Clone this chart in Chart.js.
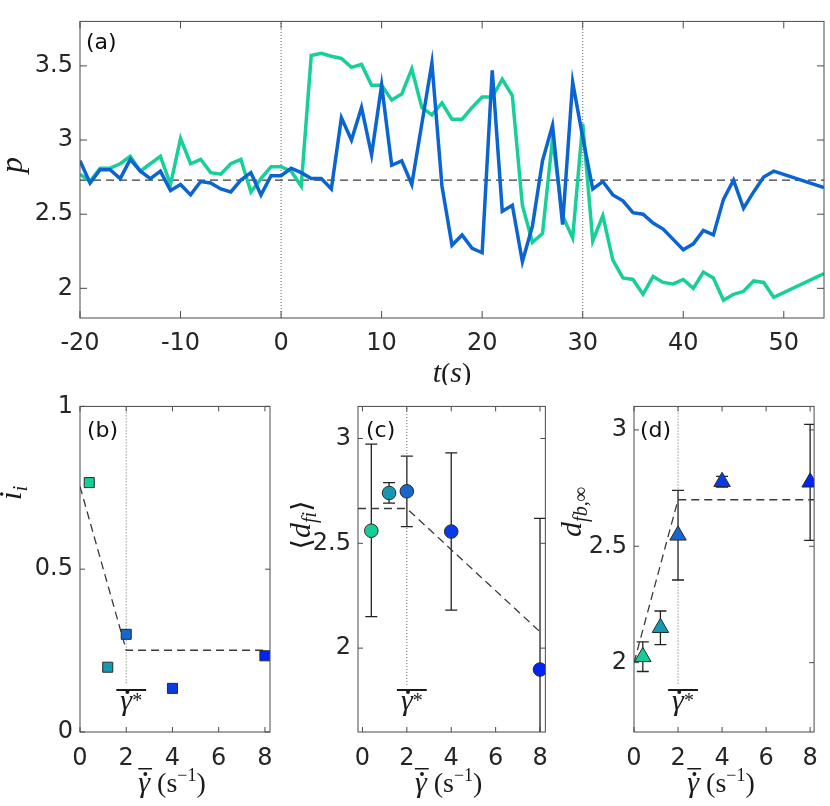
<!DOCTYPE html>
<html>
<head>
<meta charset="utf-8">
<script src="https://cdn.jsdelivr.net/npm/chart.js@4.4.1/dist/chart.umd.min.js"></script>
<style>
  body { margin: 0; background: #fff; width: 830px; height: 806px; position: relative; overflow: hidden; }
  .box { position: absolute; }
</style>
</head>
<body>
<div class="box" style="left:0;top:0;width:830px;height:385px"><canvas id="chartA"></canvas></div>
<div class="box" style="left:0;top:385px;width:290px;height:421px"><canvas id="chartB"></canvas></div>
<div class="box" style="left:290px;top:385px;width:270px;height:421px"><canvas id="chartC"></canvas></div>
<div class="box" style="left:560px;top:385px;width:270px;height:421px"><canvas id="chartD"></canvas></div>
<script>
// (a) time series of p
const timeS = [-20, -19, -18, -17, -16, -15, -14, -13, -12, -11,
  -10, -9, -8, -7, -6, -5, -4, -3, -2, -1,
  0, 1, 2, 3, 4, 5, 6, 7, 8, 9,
  10, 11, 12, 13, 14, 15, 16, 17, 18, 19,
  20, 21, 22, 23, 24, 25, 26, 27, 28, 29,
  30, 31, 32, 33, 34, 35, 36, 37, 38, 39,
  40, 41, 42, 43, 44, 45, 46, 47, 48, 49, 54];
const pBlue = [2.86, 2.71, 2.80, 2.80, 2.74, 2.87, 2.79, 2.74, 2.79, 2.66,
  2.70, 2.63, 2.72, 2.71, 2.67, 2.65, 2.73, 2.78, 2.63, 2.76,
  2.76, 2.81, 2.78, 2.74, 2.74, 2.67, 3.15, 3.00, 3.22, 2.90,
  3.37, 2.83, 2.86, 2.70, 3.11, 3.52, 2.69, 2.29, 2.36, 2.27,
  2.24, 3.47, 2.52, 2.56, 2.18, 2.42, 2.86, 3.10, 2.43, 3.39,
  3.02, 2.67, 2.72, 2.63, 2.59, 2.51, 2.50, 2.44, 2.40, 2.33,
  2.26, 2.30, 2.39, 2.36, 2.60, 2.73, 2.54, 2.65, 2.75, 2.79, 2.68];
const pGreen = [2.77, 2.72, 2.81, 2.81, 2.84, 2.89, 2.79, 2.84, 2.89, 2.70,
  3.01, 2.84, 2.87, 2.78, 2.77, 2.84, 2.87, 2.65, 2.74, 2.82,
  2.82, 2.79, 2.69, 3.57, 3.585, 3.565, 3.55, 3.49, 3.51, 3.37,
  3.37, 3.27, 3.31, 3.48, 3.22, 3.17, 3.25, 3.14, 3.14, 3.22,
  3.29, 3.29, 3.41, 3.30, 2.56, 2.31, 2.37, 3.01, 2.49, 2.34,
  3.11, 2.32, 2.49, 2.19, 2.07, 2.06, 1.96, 2.08, 2.04, 2.03,
  2.06, 2.00, 2.11, 2.07, 1.92, 1.96, 1.98, 2.05, 2.04, 1.94, 2.10];
const pMean = 2.73;
const markTimes = [0, 30];
const timeTicks = [-20, -10, 0, 10, 20, 30, 40, 50];
const pTicks = [2, 2.5, 3, 3.5];

// (b)-(d) against mean shear rate
const shearRates = [0.4, 1.2, 2, 4, 8];
const rateColors = ['#17cc97', '#1499b0', '#1666cc', '#0a3ae6', '#0022ff'];
const rateTicks = [0, 2, 4, 6, 8];
const iiTicks = [0, 0.5, 1];
const dTicks = [2, 2.5, 3];
const iiVals = [0.766, 0.199, 0.30, 0.134, 0.234];
const dfiVals = [2.56, 2.74, 2.748, 2.556, 1.898];
const dfiLow = [2.15, 2.692, 2.58, 2.181, 1.177];
const dfiHigh = [2.973, 2.789, 2.916, 2.931, 2.619];
const dfbVals = [2.025, 2.15, 2.547, 2.777, 2.775];
const dfbLow = [1.962, 2.077, 2.355, 2.754, 2.525];
const dfbHigh = [2.089, 2.222, 2.74, 2.80, 3.024];
const fitBX = [0, 2, 8], fitBY = [0.754, 0.251, 0.251];
const fitCX = [-0.2, 2, 8], fitCY = [2.666, 2.666, 2.078];
const fitDX = [0, 2, 8.2], fitDY = [2.0, 2.7, 2.7];
const critRate = 2;
const critLineB = [1, 0.146], critLineC = [3.16, 1.825], critLineD = [3.1, 1.904];

const pts = (xs, ys) => xs.map((x, i) => ({ x: x, y: ys[i] }));

function partFont(p) {
  return (p.italic ? 'italic ' : '') + p.size + 'px "Liberation Serif", "DejaVu Serif", serif';
}

// draws a run of text pieces centred on cx with baseline cy
function drawRich(ctx, parts, cx, cy, barY) {
  let w = 0;
  parts.forEach(p => { ctx.font = partFont(p); p.w = ctx.measureText(p.t).width; w += p.w; });
  let x = cx - w / 2;
  const x0 = x;
  parts.forEach(p => {
    ctx.font = partFont(p);
    ctx.fillText(p.t, x, cy + (p.dy || 0));
    if (p.dot) {
      ctx.beginPath();
      ctx.arc(x + p.w * 0.6, cy - p.size * 0.6, p.size * 0.065, 0, 2 * Math.PI);
      ctx.fill();
    }
    if (p.bar) ctx.fillRect(x, cy - p.size * 0.8, p.w + 2, 1.5);
    x += p.w;
  });
  if (barY) ctx.fillRect(x0 - 4, cy - barY, w + 8, 2);
}

const panelDeco = {
  id: 'panelDeco',
  beforeDatasetsDraw(chart, args, o) {
    if (!o.errLow) return;
    const { ctx, chartArea: a, scales: { x, y } } = chart;
    ctx.save();
    ctx.beginPath();
    ctx.rect(a.left, a.top, a.width, a.height);
    ctx.clip();
    ctx.strokeStyle = '#222';
    ctx.lineWidth = 1.3;
    shearRates.forEach((r, i) => {
      const px = x.getPixelForValue(r);
      const lo = y.getPixelForValue(o.errLow[i]);
      const hi = y.getPixelForValue(o.errHigh[i]);
      ctx.beginPath();
      ctx.moveTo(px, lo); ctx.lineTo(px, hi);
      ctx.moveTo(px - 6, lo); ctx.lineTo(px + 6, lo);
      ctx.moveTo(px - 6, hi); ctx.lineTo(px + 6, hi);
      ctx.stroke();
    });
    ctx.restore();
  },
  afterDatasetsDraw(chart, args, o) {
    const { ctx, chartArea: a, scales: { x, y } } = chart;
    ctx.save();
    ctx.strokeStyle = '#4a4a4a';
    ctx.lineWidth = 1;
    ctx.strokeRect(a.left, a.top, a.right - a.left, a.bottom - a.top);
    const tl = o.tickLen;
    ctx.beginPath();
    x.ticks.forEach(t => {
      const px = x.getPixelForValue(t.value);
      ctx.moveTo(px, a.bottom); ctx.lineTo(px, a.bottom - tl);
      ctx.moveTo(px, a.top); ctx.lineTo(px, a.top + tl);
    });
    y.ticks.forEach(t => {
      const py = y.getPixelForValue(t.value);
      ctx.moveTo(a.left, py); ctx.lineTo(a.left + tl, py);
      ctx.moveTo(a.right, py); ctx.lineTo(a.right - tl, py);
    });
    ctx.stroke();

    ctx.fillStyle = '#111';
    ctx.font = '22px "DejaVu Sans"';
    ctx.fillText(o.letter, a.left + o.letterDx, a.top + o.letterDy);

    ctx.fillStyle = '#1a1a1a';
    if (o.star) {
      const px = x.getPixelForValue(critRate);
      drawRich(ctx, [{ t: 'γ', italic: true, size: 30, dot: true }, { t: '*', size: 20, dy: -3 }], px + 5, 325, 21);
    }
    if (o.xTitle) drawRich(ctx, o.xTitle, (a.left + a.right) / 2 + o.xTitleDx, o.xTitleY);
    if (o.yTitle) {
      ctx.translate(o.yTitleX, o.yTitleY);
      ctx.rotate(-Math.PI / 2);
      drawRich(ctx, o.yTitle, 0, 8);
    }
    ctx.restore();
  }
};
Chart.register(panelDeco);

const tickFont = { family: '"DejaVu Sans"', size: 24 };
const fmt = v => String(+v.toFixed(2));

function axes(xr, xTicks, yr, yTicks, yWidth, xHeight, xPad) {
  return {
    x: {
      type: 'linear', min: xr[0], max: xr[1],
      grid: { display: false, drawTicks: false }, border: { display: false },
      ticks: { color: '#262626', font: tickFont, padding: xPad, maxRotation: 0, autoSkip: false, callback: fmt },
      afterBuildTicks: s => { s.ticks = xTicks.map(v => ({ value: v })); },
      afterFit: s => { s.height = xHeight; }
    },
    y: {
      type: 'linear', min: yr[0], max: yr[1],
      grid: { display: false, drawTicks: false }, border: { display: false },
      ticks: { color: '#262626', font: tickFont, padding: 7, autoSkip: false, callback: fmt },
      afterBuildTicks: s => { s.ticks = yTicks.map(v => ({ value: v })); },
      afterFit: s => { s.width = yWidth; }
    }
  };
}

function refLine(data, dash) {
  return {
    type: 'line', data: data, borderColor: dash ? '#3a3a3a' : '#666',
    borderWidth: dash ? 1.3 : 1, borderDash: dash ? [8, 5] : [1, 2],
    pointRadius: 0, fill: false, tension: 0
  };
}

function markers(vals, style, radius) {
  return {
    type: 'scatter', data: pts(shearRates, vals), showLine: false,
    pointStyle: style, pointRadius: radius, pointBackgroundColor: rateColors,
    pointBorderColor: '#2a2a2a', pointBorderWidth: 1
  };
}

const gammaTitle = [
  { t: 'γ', italic: true, size: 30, dot: true, bar: true },
  { t: ' (s', size: 28 },
  { t: '−1', size: 18, dy: -11 },
  { t: ')', size: 28 }
];

const common = {
  responsive: true, maintainAspectRatio: false, animation: false, events: [],
  plugins: { legend: { display: false }, tooltip: { enabled: false } }
};

// (a)
new Chart(document.getElementById('chartA'), {
  type: 'line',
  data: {
    datasets: [
      { data: pts(timeS, pBlue), borderColor: '#0a64d2', borderWidth: 3.5, pointRadius: 0, tension: 0 },
      { data: pts(timeS, pGreen), borderColor: '#17cf98', borderWidth: 3.5, pointRadius: 0, tension: 0 },
      refLine([{ x: -20, y: pMean }, { x: 54, y: pMean }], true),
      refLine([{ x: markTimes[0], y: 1.8 }, { x: markTimes[0], y: 3.8 }], false),
      refLine([{ x: markTimes[1], y: 1.8 }, { x: markTimes[1], y: 3.8 }], false)
    ]
  },
  options: {
    ...common,
    layout: { padding: { top: 4, right: 6, left: 0, bottom: 0 } },
    scales: axes([-20, 54], timeTicks, [1.8, 3.8], pTicks, 80, 67, 11),
    plugins: {
      ...common.plugins,
      panelDeco: {
        tickLen: 7, letter: '(a)', letterDx: 6, letterDy: 28,
        xTitle: [{ t: 't', italic: true, size: 30 }, { t: '(', size: 28 }, { t: 's', italic: true, size: 30 }, { t: ')', size: 28 }],
        xTitleDx: 0, xTitleY: 382,
        yTitle: [{ t: 'p', italic: true, size: 32 }], yTitleX: 14, yTitleY: 165
      }
    }
  }
});

// (b)
new Chart(document.getElementById('chartB'), {
  type: 'scatter',
  data: {
    datasets: [
      markers(iiVals, 'rect', 7.1),
      refLine(pts(fitBX, fitBY), true),
      refLine([{ x: critRate, y: critLineB[0] }, { x: critRate, y: critLineB[1] }], false)
    ]
  },
  options: {
    ...common,
    layout: { padding: { top: 15, right: 20, left: 0, bottom: 0 } },
    scales: axes([0, 8.22], rateTicks, [0, 1], iiTicks, 80, 74, 12),
    plugins: {
      ...common.plugins,
      panelDeco: {
        tickLen: 5, letter: '(b)', letterDx: 7, letterDy: 31, star: true,
        xTitle: gammaTitle, xTitleDx: -3, xTitleY: 407,
        yTitle: [{ t: 'i', italic: true, size: 32 }, { t: 'i', italic: true, size: 20, dy: 6 }], yTitleX: 13, yTitleY: 108
      }
    }
  }
});

// (c)
new Chart(document.getElementById('chartC'), {
  type: 'scatter',
  data: {
    datasets: [
      markers(dfiVals, 'circle', 6.8),
      refLine(pts(fitCX, fitCY), true),
      refLine([{ x: critRate, y: critLineC[0] }, { x: critRate, y: critLineC[1] }], false)
    ]
  },
  options: {
    ...common,
    layout: { padding: { top: 15, right: 12, left: 0, bottom: 0 } },
    scales: axes([-0.2, 8.24], rateTicks, [1.6, 3.153], dTicks, 68, 74, 12),
    plugins: {
      ...common.plugins,
      panelDeco: {
        tickLen: 5, letter: '(c)', letterDx: 8, letterDy: 31, star: true,
        errLow: dfiLow, errHigh: dfiHigh,
        xTitle: gammaTitle, xTitleDx: -3, xTitleY: 407,
        yTitle: [{ t: '⟨', size: 30 }, { t: 'd', italic: true, size: 30 }, { t: 'fi', italic: true, size: 20, dy: 6 }, { t: '⟩', size: 30 }],
        yTitleX: 12, yTitleY: 140
      }
    }
  }
});

// (d)
new Chart(document.getElementById('chartD'), {
  type: 'scatter',
  data: {
    datasets: [
      markers(dfbVals, 'triangle', 9.5),
      refLine(pts(fitDX, fitDY), true),
      refLine([{ x: critRate, y: critLineD[0] }, { x: critRate, y: critLineD[1] }], false)
    ]
  },
  options: {
    ...common,
    layout: { padding: { top: 15, right: 6, left: 0, bottom: 0 } },
    scales: axes([0, 8.18], rateTicks, [1.702, 3.101], dTicks, 74, 74, 12),
    plugins: {
      ...common.plugins,
      panelDeco: {
        tickLen: 5, letter: '(d)', letterDx: 6, letterDy: 31, star: true,
        errLow: dfbLow, errHigh: dfbHigh,
        xTitle: gammaTitle, xTitleDx: -3, xTitleY: 407,
        yTitle: [{ t: 'd', italic: true, size: 30 }, { t: 'fb,∞', italic: true, size: 20, dy: 6 }],
        yTitleX: 13, yTitleY: 127
      }
    }
  }
});
</script>
</body>
</html>
